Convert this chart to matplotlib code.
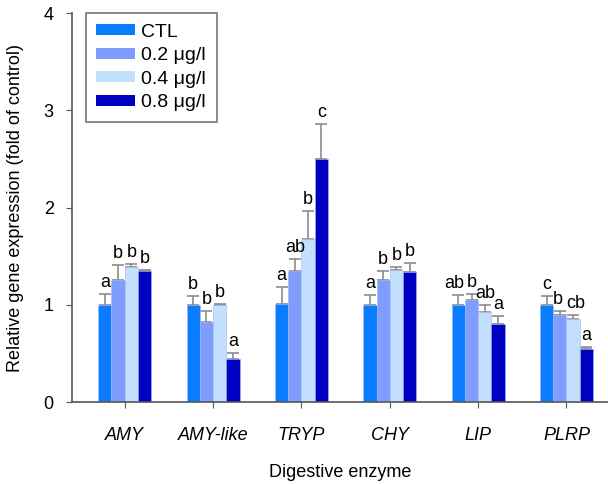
import numpy as np
import matplotlib.pyplot as plt
from matplotlib.patches import Patch

plt.rcParams['font.family'] = ['Liberation Sans', 'DejaVu Sans']

enzymes = ['AMY', 'AMY-like', 'TRYP', 'CHY', 'LIP', 'PLRP']
groups = ['CTL', '0.2 \u03bcg/l', '0.4 \u03bcg/l', '0.8 \u03bcg/l']
colors = ['#0a7cff', '#7f9dfd', '#c2e0fd', '#0000c2']

# mean values per concentration
ctl = [1.00, 1.00, 1.01, 1.00, 1.00, 1.00]
c02 = [1.26, 0.82, 1.35, 1.26, 1.05, 0.90]
c04 = [1.39, 1.00, 1.68, 1.36, 0.93, 0.86]
c08 = [1.35, 0.44, 2.50, 1.34, 0.80, 0.55]

# standard errors (upper only)
ctl_err = [0.11, 0.09, 0.17, 0.10, 0.10, 0.09]
c02_err = [0.15, 0.12, 0.12, 0.09, 0.06, 0.04]
c04_err = [0.03, 0.01, 0.29, 0.03, 0.07, 0.035]
c08_err = [0.01, 0.07, 0.36, 0.09, 0.09, 0.02]

# significance letters
ctl_lab = ['a', 'b', 'a', 'a', 'ab', 'c']
c02_lab = ['b', 'b', 'ab', 'b', 'b', 'b']
c04_lab = ['b', 'b', 'b', 'b', 'ab', 'cb']
c08_lab = ['b', 'a', 'c', 'b', 'a', 'a']

means = [ctl, c02, c04, c08]
errs = [ctl_err, c02_err, c04_err, c08_err]
labs = [ctl_lab, c02_lab, c04_lab, c08_lab]

fig = plt.figure(figsize=(6.08, 4.84), dpi=100)
ax = fig.add_axes([0.118, 0.169, 0.882, 0.804])

x = np.arange(len(enzymes))
w = 0.15
for k in range(4):
    xs = x + (k - 1.5) * w
    ax.bar(xs, means[k], w, color=colors[k], edgecolor='#9fb8f0', linewidth=0.4, zorder=2)
    ax.errorbar(xs, means[k], yerr=[np.zeros(6), errs[k]], fmt='none',
                ecolor='#8c8c8c', elinewidth=1.2, capsize=4, capthick=1.2, zorder=1)
    for i in range(6):
        top = means[k][i] + errs[k][i]
        lab = labs[k][i]
        dx = 0
        # nudge the crowded labels apart
        if lab == 'ab' and i == 4 and k == 0:
            dx = -0.04
        if lab == 'cb':
            dx = 0.025
        if lab == 'b' and i == 5:
            dx = -0.02
        ax.text(xs[i] + dx, top + 0.03, lab, ha='center', va='bottom', fontsize=13)

ax.set_xlim(-0.6, 5.47)
ax.set_ylim(0, 4)
ax.set_yticks([0, 1, 2, 3, 4])
ax.set_xticks(x)
ax.set_xticklabels(enzymes, fontstyle='italic', fontsize=13)
ax.tick_params(axis='y', labelsize=13, length=4, color='#555555', pad=9)
ax.tick_params(axis='x', length=4, color='#555555', pad=14)
for s in ['top', 'right']:
    ax.spines[s].set_visible(False)
for s in ['left', 'bottom']:
    ax.spines[s].set_color('#555555')
    ax.spines[s].set_linewidth(1.2)

ax.set_ylabel('Relative gene expression (fold of control)', fontsize=13, labelpad=14)
ax.set_xlabel('Digestive enzyme', fontsize=13, labelpad=14)

handles = [Patch(facecolor=c, edgecolor='none') for c in colors]
leg = ax.legend(handles, groups, loc='upper left', bbox_to_anchor=(0.026, 1.0),
                borderaxespad=0, fontsize=14, frameon=True, fancybox=False,
                edgecolor='#555555', handlelength=2.0, handleheight=0.5,
                handletextpad=0.3, labelspacing=0.33, borderpad=0.55)
leg.get_frame().set_linewidth(1.2)

fig.savefig('out.png', dpi=100)
